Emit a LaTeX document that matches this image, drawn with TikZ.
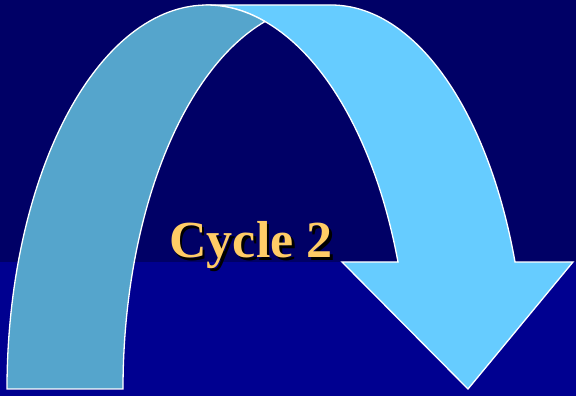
\documentclass[tikz,border=0pt]{standalone}
\usepackage{fontspec}
\setmainfont{Liberation Serif}
\definecolor{bgtop}{HTML}{000066}
\definecolor{bgbottom}{HTML}{000090}
\definecolor{backband}{HTML}{55A5CC}
\definecolor{frontband}{HTML}{66CCFF}
\definecolor{gold}{HTML}{FFCC66}
\newcommand{\shadowtext}[1]{\rlap{\hspace{2.5pt}\raisebox{-2.5pt}{\textcolor{black}{#1}}}\textcolor{gold}{#1}}
\tikzset{
  band/.style={draw=white, line width=1.3pt, line join=miter},
  caption/.style={font=\fontsize{52}{52}\selectfont\bfseries, anchor=base, inner sep=0pt}
}
\begin{document}
\begin{tikzpicture}[x=1pt,y=1pt]
\useasboundingbox (0,0) rectangle (576,396);
% background
\fill[bgtop] (0,134) rectangle (576,396);
\fill[bgbottom] (0,0) rectangle (576,134);
% front (right) band with arrow head
\filldraw[band, fill=frontband]
  (207,391) -- (331,391)
  arc[start angle=90, end angle=19.31, x radius=195, y radius=384]
  -- (573,134) -- (468,7) -- (342,134) -- (398,134)
  arc[start angle=19.31, end angle=73.14, x radius=203.5, y radius=384]
  arc[start angle=73.14, end angle=90, x radius=200, y radius=384]
  -- cycle;
% back (left) band
\filldraw[band, fill=backband]
  (7,7)
  arc[start angle=180, end angle=73.14, x radius=200, y radius=384]
  arc[start angle=106.86, end angle=180, x radius=200, y radius=384]
  -- cycle;
% label with drop shadow
\node[caption] (label) at (251,138) {\shadowtext{Cycle 2}};
\end{tikzpicture}
\end{document}
